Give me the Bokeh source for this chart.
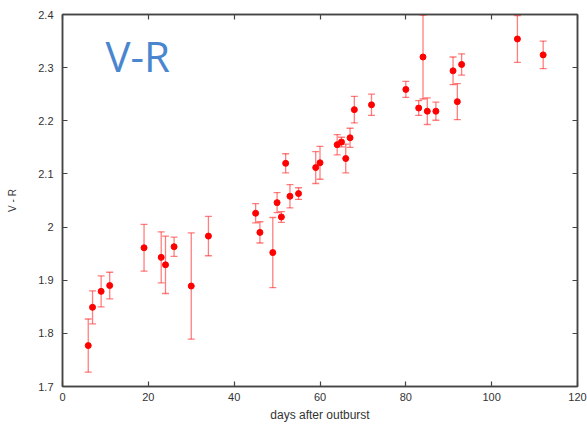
from bokeh.plotting import figure
from bokeh.models import (ColumnDataSource, Whisker, TeeHead, LinearAxis, Range1d,
                          Label, FixedTicker, CustomJSTickFormatter)
from bokeh.embed import file_html
from bokeh.resources import INLINE

# ---- data ----
days = [6, 7, 9, 11, 19, 23, 24, 26, 30, 34, 45, 46, 49, 50, 51, 52, 53, 55,
        59, 60, 64, 65, 66, 67, 68, 72, 80, 83, 84, 85, 87, 91, 92, 93, 106, 112]
v_minus_r = [1.777, 1.849, 1.879, 1.890, 1.961, 1.943, 1.929, 1.963, 1.889, 1.983,
             2.026, 1.990, 1.952, 2.046, 2.019, 2.120, 2.058, 2.063, 2.112, 2.121,
             2.155, 2.160, 2.129, 2.168, 2.221, 2.230, 2.259, 2.224, 2.320, 2.218,
             2.218, 2.294, 2.236, 2.306, 2.354, 2.324]
errors = [0.050, 0.031, 0.029, 0.025, 0.044, 0.048, 0.054, 0.018, 0.100, 0.037,
          0.018, 0.020, 0.066, 0.019, 0.010, 0.018, 0.022, 0.011, 0.030, 0.031,
          0.019, 0.009, 0.027, 0.018, 0.025, 0.020, 0.015, 0.014, 0.079, 0.025,
          0.017, 0.026, 0.034, 0.020, 0.044, 0.026]
x_ticks = [0, 20, 40, 60, 80, 100, 120]
y_ticks = [1.7, 1.8, 1.9, 2.0, 2.1, 2.2, 2.3, 2.4]
y_tick_labels = {1.7: "1.7", 1.8: "1.8", 1.9: "1.9", 2.0: "2", 2.1: "2.1",
                 2.2: "2.2", 2.3: "2.3", 2.4: "2.4"}

upper = [v + e for v, e in zip(v_minus_r, errors)]
lower = [v - e for v, e in zip(v_minus_r, errors)]
src = ColumnDataSource(dict(x=days, y=v_minus_r, upper=upper, lower=lower))

AX = "#444444"
FONT = "Liberation Sans"

p = figure(width=587, height=424, output_backend="svg", toolbar_location=None,
           x_range=Range1d(0, 120), y_range=Range1d(1.7, 2.4),
           x_axis_label="days after outburst", y_axis_label="V - R",
           min_border_left=62, min_border_right=10, min_border_top=14,
           min_border_bottom=38)
p.xgrid.visible = False
p.ygrid.visible = False
p.outline_line_color = AX
p.outline_line_width = 1.5
p.background_fill_color = "white"
p.border_fill_color = "white"

p.xaxis.ticker = FixedTicker(ticks=x_ticks)
p.yaxis.ticker = FixedTicker(ticks=y_ticks)
p.yaxis.major_label_overrides = y_tick_labels

for ax in (p.xaxis[0], p.yaxis[0]):
    ax.axis_line_color = AX
    ax.axis_line_width = 1.5
    ax.major_tick_line_color = AX
    ax.major_tick_line_width = 1.2
    ax.major_tick_in = 5
    ax.major_tick_out = 0
    ax.minor_tick_line_color = None
    ax.major_label_text_font = FONT
    ax.major_label_text_font_size = "11px"
    ax.major_label_text_color = "#333333"
    ax.axis_label_text_font = FONT
    ax.axis_label_text_font_style = "normal"
    ax.axis_label_text_color = "#333333"

p.xaxis.major_label_standoff = 6
p.xaxis.axis_label_text_font_size = "12px"
p.xaxis.axis_label_standoff = 4
p.yaxis.major_label_standoff = 9
p.yaxis.axis_label_text_font_size = "10px"
p.yaxis.axis_label_standoff = 17

# mirror axes (top / right) with inward ticks and no labels
blank = CustomJSTickFormatter(code="return '';")
top = LinearAxis(ticker=FixedTicker(ticks=x_ticks), formatter=blank)
right = LinearAxis(ticker=FixedTicker(ticks=y_ticks), formatter=blank)
for ax in (top, right):
    ax.axis_line_color = AX
    ax.axis_line_width = 1.5
    ax.major_tick_line_color = AX
    ax.major_tick_line_width = 1.2
    ax.major_tick_in = 5
    ax.major_tick_out = 0
    ax.minor_tick_line_color = None
    ax.major_label_standoff = 0
p.add_layout(top, "above")
p.add_layout(right, "right")

# error bars
wh = Whisker(source=src, base="x", upper="upper", lower="lower",
             line_color="#ff0000", line_alpha=0.5, line_width=1.3,
             upper_head=TeeHead(size=7, line_color="#ff0000", line_alpha=0.5, line_width=1.3),
             lower_head=TeeHead(size=7, line_color="#ff0000", line_alpha=0.5, line_width=1.3))
p.add_layout(wh)

p.scatter("x", "y", source=src, size=6, fill_color="#ff0000", line_color="#ff0000")

# large "V-R" label
p.add_layout(Label(x=10.0, y=2.322, text="V-R", text_font="Open Sans",
                   text_font_size="42px", text_color="#4a86cf",
                   text_baseline="alphabetic"))

open("out.html", "w").write(file_html(p, INLINE))
